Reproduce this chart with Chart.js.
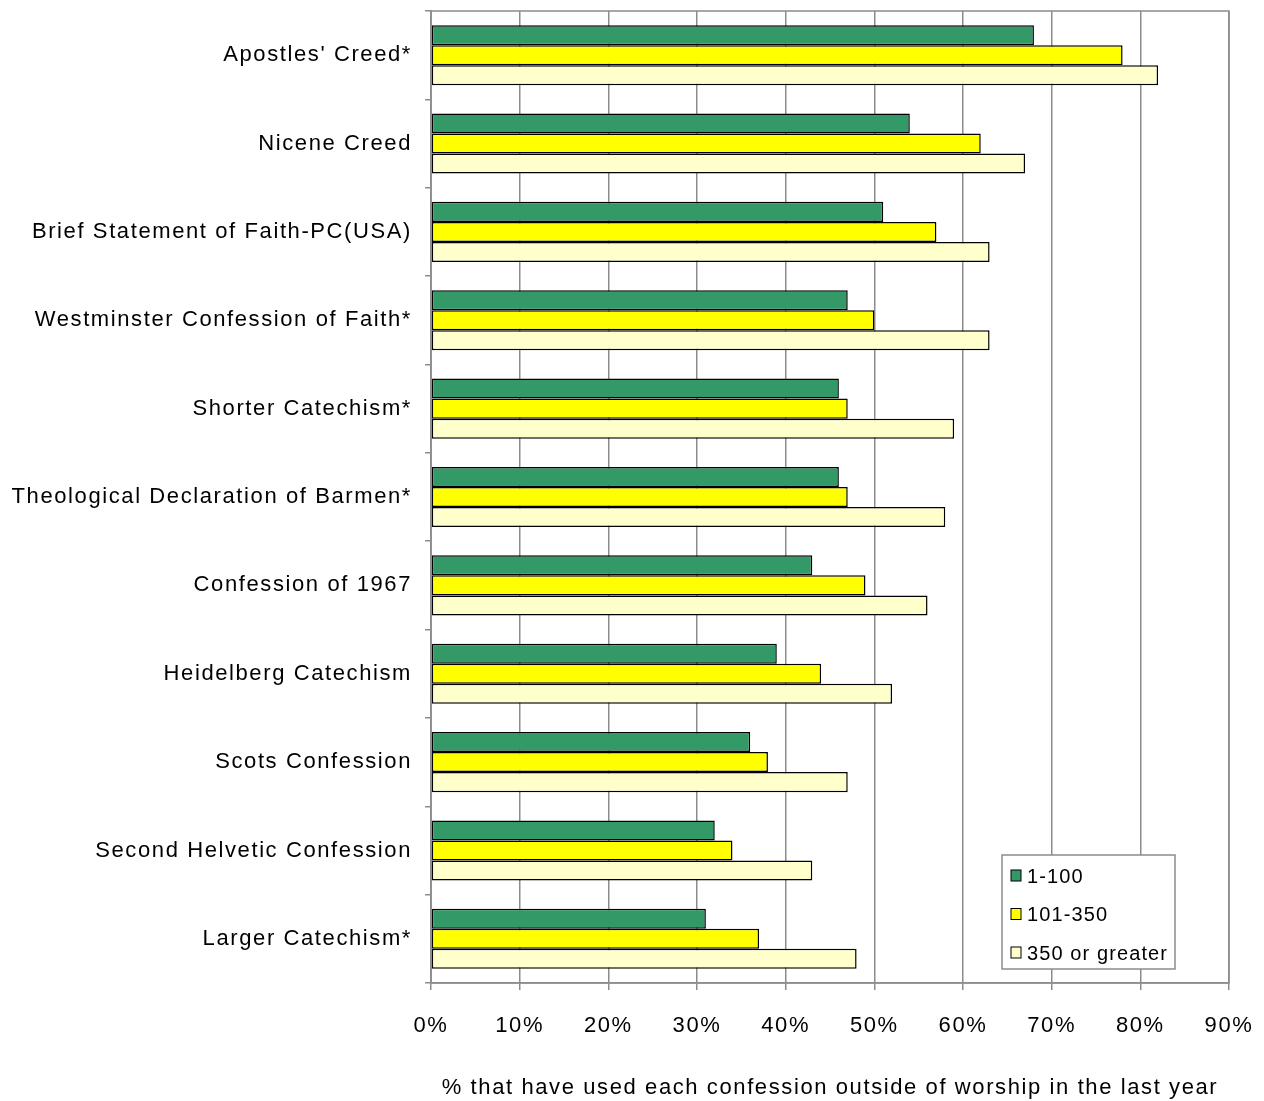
<!DOCTYPE html>
<html>
<head>
<meta charset="utf-8">
<script src="https://cdn.jsdelivr.net/npm/chart.js@4.4.1/dist/chart.umd.min.js"></script>
<style>
  html, body { margin: 0; padding: 0; background: #ffffff; }
  #wrap { width: 1264px; height: 1101px; }
</style>
</head>
<body>
<div id="wrap"><canvas id="c" width="1264" height="1101"></canvas></div>
<script>
// Confessions, top to bottom
const categories = [
  "Apostles' Creed*",
  "Nicene Creed",
  "Brief Statement of Faith-PC(USA)",
  "Westminster Confession of Faith*",
  "Shorter Catechism*",
  "Theological Declaration of Barmen*",
  "Confession of 1967",
  "Heidelberg Catechism",
  "Scots Confession",
  "Second Helvetic Confession",
  "Larger Catechism*"
];

// Percent of congregations by size that used each confession outside worship
const seriesNames = ["1-100", "101-350", "350 or greater"];
const small  = [68, 54, 51, 47, 46, 46, 43, 39, 36, 32, 31];
const medium = [78, 62, 57, 50, 47, 47, 49, 44, 38, 34, 37];
const large  = [82, 67, 63, 63, 59, 58, 56, 52, 47, 43, 48];

const xTicks = [0, 10, 20, 30, 40, 50, 60, 70, 80, 90];
const xTitle = "% that have used each confession outside of worship in the last year";

const colors = ["#339966", "#FFFF00", "#FFFFCC"];
const FONT = "'Liberation Sans', Arial, sans-serif";
const GRID = "#8c8c8c";

const datasets = [small, medium, large].map((vals, i) => ({
  label: seriesNames[i],
  data: vals,
  backgroundColor: colors[i],
  borderColor: "#000000",
  borderWidth: 1.5,
  borderSkipped: false,
  barPercentage: 1.0,
  categoryPercentage: 0.68
}));

// Slightly open letter spacing for all text
const spacing = {
  id: "spacing",
  beforeDraw(chart) { chart.ctx.letterSpacing = "1.6px"; }
};

// Frame around the plot area
const frame = {
  id: "frame",
  afterDatasetsDraw(chart) {
    const { ctx, chartArea: a } = chart;
    ctx.save();
    ctx.strokeStyle = GRID;
    ctx.lineWidth = 1.5;
    ctx.strokeRect(a.left, a.top, a.right - a.left, a.bottom - a.top);
    ctx.restore();
  }
};

// Boxed legend in the lower right of the plot
const boxLegend = {
  id: "boxLegend",
  afterDraw(chart) {
    const { ctx } = chart;
    const x = 1002, y = 855, w = 173, h = 114;
    ctx.save();
    ctx.letterSpacing = "1.1px";
    ctx.fillStyle = "#ffffff";
    ctx.fillRect(x, y, w, h);
    ctx.strokeStyle = GRID;
    ctx.lineWidth = 1.5;
    ctx.strokeRect(x, y, w, h);
    ctx.font = "20px " + FONT;
    ctx.textBaseline = "middle";
    chart.data.datasets.forEach((ds, i) => {
      const cy = y + 21 + i * 38.5;
      ctx.fillStyle = ds.backgroundColor;
      ctx.fillRect(x + 9, cy - 6, 10, 11);
      ctx.strokeStyle = "#000000";
      ctx.lineWidth = 1;
      ctx.strokeRect(x + 9, cy - 6, 10, 11);
      ctx.fillStyle = "#000000";
      ctx.fillText(ds.label, x + 25, cy + 1);
    });
    ctx.restore();
  }
};

new Chart(document.getElementById("c"), {
  type: "bar",
  data: { labels: categories, datasets },
  plugins: [spacing, frame, boxLegend],
  options: {
    indexAxis: "y",
    responsive: false,
    animation: false,
    layout: { padding: { top: 11, right: 35, bottom: 0, left: 0 } },
    plugins: { legend: { display: false }, tooltip: { enabled: false } },
    scales: {
      x: {
        min: 0,
        max: 90,
        afterBuildTicks(scale) { scale.ticks = xTicks.map(v => ({ value: v })); },
        afterFit(scale) {
          scale.height = 118;
          scale.paddingLeft = 0;
          scale.paddingRight = 0;
        },
        ticks: {
          callback: v => v + "%",
          color: "#000000",
          font: { family: FONT, size: 22 },
          padding: 23,
          maxRotation: 0
        },
        grid: { color: GRID, lineWidth: 1.5, tickLength: 7, tickColor: GRID },
        border: { color: GRID, width: 1.5 },
        title: {
          display: true,
          text: xTitle,
          color: "#000000",
          font: { family: FONT, size: 22 },
          padding: { top: 0, bottom: 0 }
        }
      },
      y: {
        afterFit(scale) {
          scale.width = 431;
          scale.paddingTop = 0;
          scale.paddingBottom = 0;
        },
        ticks: {
          color: "#000000",
          font: { family: FONT, size: 22 },
          padding: 13
        },
        grid: { offset: true, drawOnChartArea: false, tickLength: 6, color: GRID, lineWidth: 1.5 },
        border: { color: GRID, width: 1.5 }
      }
    }
  }
});
</script>
</body>
</html>
